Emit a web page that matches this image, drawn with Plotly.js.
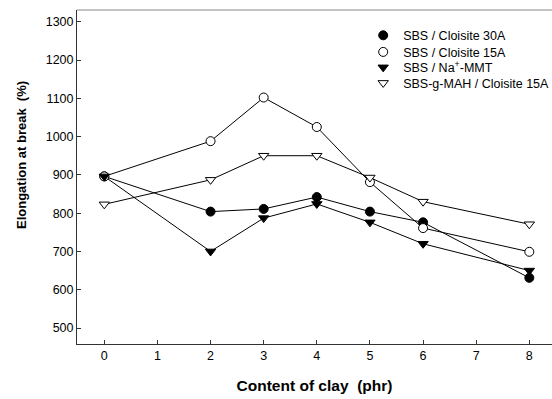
<!DOCTYPE html>
<html>
<head>
<meta charset="utf-8">
<script src="https://cdn.plot.ly/plotly-3.0.1.min.js"></script>
<style>html,body{margin:0;padding:0;background:#fff;overflow:hidden;}#chart{width:552px;height:399px;}</style>
</head>
<body>
<div id="chart"></div>
<script>
const clayContent = [0, 2, 3, 4, 5, 6, 8];
const sbsCloisite30A = [896, 804, 811, 842, 804, 776, 631];
const sbsCloisite15A = [896, 988, 1102, 1025, 881, 761, 699];
const sbsNaMMT = [896, 700, 787, 824, 776, 720, 650];
const sbsgMAHCloisite15A = [823, 887, 950, 950, 893, 830, 771];
const seriesNames = ['SBS / Cloisite 30A', 'SBS / Cloisite 15A', 'SBS / Na<sup>+</sup>-MMT', 'SBS-g-MAH / Cloisite 15A'];
const xTickVals = [0, 1, 2, 3, 4, 5, 6, 7, 8];
const yTickVals = [500, 600, 700, 800, 900, 1000, 1100, 1200, 1300];

const seriesData = [sbsCloisite30A, sbsCloisite15A, sbsNaMMT, sbsgMAHCloisite15A];
const symbols = ['circle', 'circle', 'triangle-down', 'triangle-down'];
const fills = ['#000', '#fff', '#000', '#fff'];
const sizes = [9, 9, 9, 9];
const legendIds = ['legend', 'legend2', 'legend3', 'legend4'];

const traces = [];
seriesData.forEach((ys, i) => {
  traces.push({
    x: clayContent, y: ys, type: 'scatter', mode: 'lines',
    line: {color: '#000', width: 1}, showlegend: false, hoverinfo: 'skip'
  });
});
seriesData.forEach((ys, i) => {
  traces.push({
    x: clayContent, y: ys, type: 'scatter', mode: 'markers', name: seriesNames[i],
    legend: legendIds[i],
    marker: {symbol: symbols[i], size: sizes[i], color: fills[i], line: {color: '#000', width: 1}}
  });
});

const legendRowsY = [0.9231, 0.8734, 0.8272, 0.7806];
const legendFont = {family: 'Liberation Sans, Arial, sans-serif', size: 12.5, color: '#000'};
const layout = {
  width: 552, height: 399,
  margin: {l: 77, r: 0, t: 10, b: 55, autoexpand: false},
  paper_bgcolor: '#fff', plot_bgcolor: '#fff',
  font: {family: 'Liberation Sans, Arial, sans-serif', size: 12.5, color: '#000'},
  xaxis: {
    range: [-0.514, 8.427], tickvals: xTickVals, ticktext: xTickVals.map(String),
    ticks: 'inside', ticklen: 4, tickcolor: '#333', tickwidth: 1,
    showline: true, linecolor: '#333', linewidth: 1, showgrid: false, zeroline: false,
    automargin: false,
    tickfont: {size: 12.5, color: '#000'},
    title: {text: 'Content of clay\u00a0\u00a0(phr)', font: {size: 15.5, color: '#000', family: 'Liberation Sans, Arial, sans-serif', weight: 'bold'}, standoff: 18}
  },
  yaxis: {
    range: [458.2, 1330.6], tickvals: yTickVals, ticktext: yTickVals.map(String),
    ticks: 'inside', ticklen: 4, tickcolor: '#333', tickwidth: 1,
    showline: true, linecolor: '#333', linewidth: 1, showgrid: false, zeroline: false,
    automargin: false,
    tickfont: {size: 12.5, color: '#000'}
  },
  shapes: [{type: 'line', xref: 'paper', yref: 'paper', x0: 0, x1: 1, y0: 1, y1: 1, line: {color: '#888', width: 1}}],
  annotations: [{
    text: '<b>Elongation at break\u00a0\u00a0(%)</b>', xref: 'paper', yref: 'paper',
    x: -0.1158, y: 0.5659, xanchor: 'center', yanchor: 'middle', textangle: -90, showarrow: false,
    font: {size: 13, color: '#000', family: 'Liberation Sans, Arial, sans-serif'}
  }]
};
legendIds.forEach((id, i) => {
  layout[id] = {x: 0.6025, y: legendRowsY[i], xanchor: 'left', yanchor: 'middle', bgcolor: 'rgba(0,0,0,0)', borderwidth: 0, font: legendFont};
});

Plotly.newPlot('chart', traces, layout, {displayModeBar: false, staticPlot: true});
</script>
</body>
</html>
